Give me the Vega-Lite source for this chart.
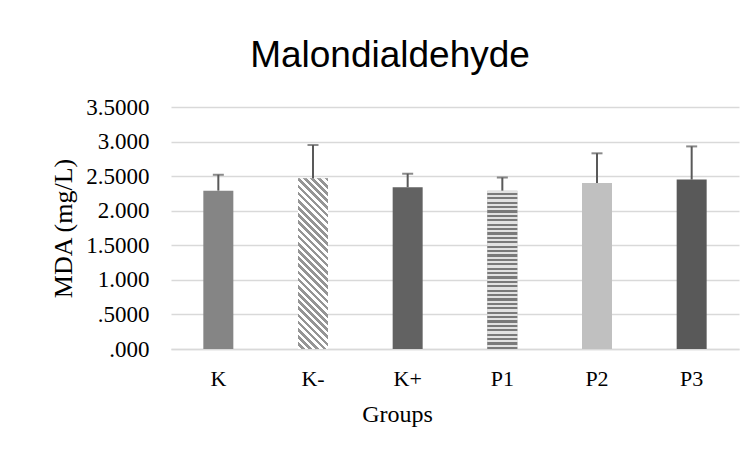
{
  "$schema": "https://vega.github.io/schema/vega-lite/v6.json",
  "width": 568,
  "height": 242,
  "autosize": {"type": "none"},
  "padding": {"left": 171, "top": 107, "right": 15, "bottom": 107},
  "background": "white",
  "config": {"view": {"stroke": null}},
  "title": {
    "text": "Malondialdehyde",
    "font": "Liberation Sans",
    "fontSize": 37,
    "fontWeight": "normal",
    "color": "#000000",
    "anchor": "middle",
    "dx": -65,
    "baseline": "alphabetic",
    "offset": -8
  },
  "data": {
    "values": [
      {"group": "K", "mean": 2.29, "upper": 2.52},
      {"group": "K-", "mean": 2.47, "upper": 2.95},
      {"group": "K+", "mean": 2.34, "upper": 2.535},
      {"group": "P1", "mean": 2.29, "upper": 2.48},
      {"group": "P2", "mean": 2.40, "upper": 2.83},
      {"group": "P3", "mean": 2.45, "upper": 2.93}
    ]
  },
  "encoding": {
    "x": {
      "field": "group",
      "type": "nominal",
      "sort": ["K", "K-", "K+", "P1", "P2", "P3"],
      "scale": {"paddingInner": 0.68, "paddingOuter": 0.34},
      "axis": {
        "title": "Groups",
        "labelAngle": 0,
        "labelFont": "Liberation Serif",
        "labelFontSize": 22,
        "labelColor": "#000000",
        "labelPadding": 19,
        "ticks": false,
        "domainColor": "#d9d9d9",
        "domainWidth": 1.5,
        "titleFont": "Liberation Serif",
        "titleFontSize": 24,
        "titleFontWeight": "normal",
        "titleColor": "#000000",
        "titlePadding": 13,
        "titleX": 226
      }
    }
  },
  "layer": [
    {
      "mark": {"type": "bar", "width": 30},
      "encoding": {
        "y": {
          "field": "mean",
          "type": "quantitative",
          "scale": {"domain": [0, 3.5]},
          "axis": {
            "title": "MDA (mg/L)",
            "values": [0, 0.5, 1, 1.5, 2, 2.5, 3, 3.5],
            "tickCount": 12,
            "labelExpr": "(datum.value < 1 ? '' : floor(datum.value) + '') + '.' + (datum.value % 1 == 0 ? '000' : '5000')",
            "labelOverlap": false,
            "labelFont": "Liberation Serif",
            "labelFontSize": 23,
            "labelColor": "#000000",
            "labelPadding": 22,
            "ticks": false,
            "domain": false,
            "gridColor": "#d9d9d9",
            "gridWidth": 1.5,
            "titleFont": "Liberation Serif",
            "titleFontSize": 26,
            "titleFontWeight": "normal",
            "titleColor": "#000000",
            "titlePadding": 9
          }
        },
        "color": {
          "field": "group",
          "type": "nominal",
          "scale": {
            "domain": ["K", "K-", "K+", "P1", "P2", "P3"],
            "range": ["#858585", "#c9c9c9", "#626262", "#ababab", "#c0c0c0", "#595959"]
          },
          "legend": null
        }
      }
    },
    {
      "transform": [{"filter": "datum.group == 'P1'"}],
      "mark": {
        "type": "bar",
        "width": 30,
        "color": {
          "gradient": "linear",
          "x1": 0, "y1": 0, "x2": 0, "y2": 1,
          "stops": [
            {"offset": 0, "color": "#e2e2e2"}, {"offset": 0.013889, "color": "#e2e2e2"},
            {"offset": 0.013889, "color": "#7a7a7a"}, {"offset": 0.027778, "color": "#7a7a7a"},
            {"offset": 0.027778, "color": "#e2e2e2"}, {"offset": 0.041667, "color": "#e2e2e2"},
            {"offset": 0.041667, "color": "#7a7a7a"}, {"offset": 0.055556, "color": "#7a7a7a"},
            {"offset": 0.055556, "color": "#e2e2e2"}, {"offset": 0.069444, "color": "#e2e2e2"},
            {"offset": 0.069444, "color": "#7a7a7a"}, {"offset": 0.083333, "color": "#7a7a7a"},
            {"offset": 0.083333, "color": "#e2e2e2"}, {"offset": 0.097222, "color": "#e2e2e2"},
            {"offset": 0.097222, "color": "#7a7a7a"}, {"offset": 0.111111, "color": "#7a7a7a"},
            {"offset": 0.111111, "color": "#e2e2e2"}, {"offset": 0.125, "color": "#e2e2e2"},
            {"offset": 0.125, "color": "#7a7a7a"}, {"offset": 0.138889, "color": "#7a7a7a"},
            {"offset": 0.138889, "color": "#e2e2e2"}, {"offset": 0.152778, "color": "#e2e2e2"},
            {"offset": 0.152778, "color": "#7a7a7a"}, {"offset": 0.166667, "color": "#7a7a7a"},
            {"offset": 0.166667, "color": "#e2e2e2"}, {"offset": 0.180556, "color": "#e2e2e2"},
            {"offset": 0.180556, "color": "#7a7a7a"}, {"offset": 0.194444, "color": "#7a7a7a"},
            {"offset": 0.194444, "color": "#e2e2e2"}, {"offset": 0.208333, "color": "#e2e2e2"},
            {"offset": 0.208333, "color": "#7a7a7a"}, {"offset": 0.222222, "color": "#7a7a7a"},
            {"offset": 0.222222, "color": "#e2e2e2"}, {"offset": 0.236111, "color": "#e2e2e2"},
            {"offset": 0.236111, "color": "#7a7a7a"}, {"offset": 0.25, "color": "#7a7a7a"},
            {"offset": 0.25, "color": "#e2e2e2"}, {"offset": 0.263889, "color": "#e2e2e2"},
            {"offset": 0.263889, "color": "#7a7a7a"}, {"offset": 0.277778, "color": "#7a7a7a"},
            {"offset": 0.277778, "color": "#e2e2e2"}, {"offset": 0.291667, "color": "#e2e2e2"},
            {"offset": 0.291667, "color": "#7a7a7a"}, {"offset": 0.305556, "color": "#7a7a7a"},
            {"offset": 0.305556, "color": "#e2e2e2"}, {"offset": 0.319444, "color": "#e2e2e2"},
            {"offset": 0.319444, "color": "#7a7a7a"}, {"offset": 0.333333, "color": "#7a7a7a"},
            {"offset": 0.333333, "color": "#e2e2e2"}, {"offset": 0.347222, "color": "#e2e2e2"},
            {"offset": 0.347222, "color": "#7a7a7a"}, {"offset": 0.361111, "color": "#7a7a7a"},
            {"offset": 0.361111, "color": "#e2e2e2"}, {"offset": 0.375, "color": "#e2e2e2"},
            {"offset": 0.375, "color": "#7a7a7a"}, {"offset": 0.388889, "color": "#7a7a7a"},
            {"offset": 0.388889, "color": "#e2e2e2"}, {"offset": 0.402778, "color": "#e2e2e2"},
            {"offset": 0.402778, "color": "#7a7a7a"}, {"offset": 0.416667, "color": "#7a7a7a"},
            {"offset": 0.416667, "color": "#e2e2e2"}, {"offset": 0.430556, "color": "#e2e2e2"},
            {"offset": 0.430556, "color": "#7a7a7a"}, {"offset": 0.444444, "color": "#7a7a7a"},
            {"offset": 0.444444, "color": "#e2e2e2"}, {"offset": 0.458333, "color": "#e2e2e2"},
            {"offset": 0.458333, "color": "#7a7a7a"}, {"offset": 0.472222, "color": "#7a7a7a"},
            {"offset": 0.472222, "color": "#e2e2e2"}, {"offset": 0.486111, "color": "#e2e2e2"},
            {"offset": 0.486111, "color": "#7a7a7a"}, {"offset": 0.5, "color": "#7a7a7a"},
            {"offset": 0.5, "color": "#e2e2e2"}, {"offset": 0.513889, "color": "#e2e2e2"},
            {"offset": 0.513889, "color": "#7a7a7a"}, {"offset": 0.527778, "color": "#7a7a7a"},
            {"offset": 0.527778, "color": "#e2e2e2"}, {"offset": 0.541667, "color": "#e2e2e2"},
            {"offset": 0.541667, "color": "#7a7a7a"}, {"offset": 0.555556, "color": "#7a7a7a"},
            {"offset": 0.555556, "color": "#e2e2e2"}, {"offset": 0.569444, "color": "#e2e2e2"},
            {"offset": 0.569444, "color": "#7a7a7a"}, {"offset": 0.583333, "color": "#7a7a7a"},
            {"offset": 0.583333, "color": "#e2e2e2"}, {"offset": 0.597222, "color": "#e2e2e2"},
            {"offset": 0.597222, "color": "#7a7a7a"}, {"offset": 0.611111, "color": "#7a7a7a"},
            {"offset": 0.611111, "color": "#e2e2e2"}, {"offset": 0.625, "color": "#e2e2e2"},
            {"offset": 0.625, "color": "#7a7a7a"}, {"offset": 0.638889, "color": "#7a7a7a"},
            {"offset": 0.638889, "color": "#e2e2e2"}, {"offset": 0.652778, "color": "#e2e2e2"},
            {"offset": 0.652778, "color": "#7a7a7a"}, {"offset": 0.666667, "color": "#7a7a7a"},
            {"offset": 0.666667, "color": "#e2e2e2"}, {"offset": 0.680556, "color": "#e2e2e2"},
            {"offset": 0.680556, "color": "#7a7a7a"}, {"offset": 0.694444, "color": "#7a7a7a"},
            {"offset": 0.694444, "color": "#e2e2e2"}, {"offset": 0.708333, "color": "#e2e2e2"},
            {"offset": 0.708333, "color": "#7a7a7a"}, {"offset": 0.722222, "color": "#7a7a7a"},
            {"offset": 0.722222, "color": "#e2e2e2"}, {"offset": 0.736111, "color": "#e2e2e2"},
            {"offset": 0.736111, "color": "#7a7a7a"}, {"offset": 0.75, "color": "#7a7a7a"},
            {"offset": 0.75, "color": "#e2e2e2"}, {"offset": 0.763889, "color": "#e2e2e2"},
            {"offset": 0.763889, "color": "#7a7a7a"}, {"offset": 0.777778, "color": "#7a7a7a"},
            {"offset": 0.777778, "color": "#e2e2e2"}, {"offset": 0.791667, "color": "#e2e2e2"},
            {"offset": 0.791667, "color": "#7a7a7a"}, {"offset": 0.805556, "color": "#7a7a7a"},
            {"offset": 0.805556, "color": "#e2e2e2"}, {"offset": 0.819444, "color": "#e2e2e2"},
            {"offset": 0.819444, "color": "#7a7a7a"}, {"offset": 0.833333, "color": "#7a7a7a"},
            {"offset": 0.833333, "color": "#e2e2e2"}, {"offset": 0.847222, "color": "#e2e2e2"},
            {"offset": 0.847222, "color": "#7a7a7a"}, {"offset": 0.861111, "color": "#7a7a7a"},
            {"offset": 0.861111, "color": "#e2e2e2"}, {"offset": 0.875, "color": "#e2e2e2"},
            {"offset": 0.875, "color": "#7a7a7a"}, {"offset": 0.888889, "color": "#7a7a7a"},
            {"offset": 0.888889, "color": "#e2e2e2"}, {"offset": 0.902778, "color": "#e2e2e2"},
            {"offset": 0.902778, "color": "#7a7a7a"}, {"offset": 0.916667, "color": "#7a7a7a"},
            {"offset": 0.916667, "color": "#e2e2e2"}, {"offset": 0.930556, "color": "#e2e2e2"},
            {"offset": 0.930556, "color": "#7a7a7a"}, {"offset": 0.944444, "color": "#7a7a7a"},
            {"offset": 0.944444, "color": "#e2e2e2"}, {"offset": 0.958333, "color": "#e2e2e2"},
            {"offset": 0.958333, "color": "#7a7a7a"}, {"offset": 0.972222, "color": "#7a7a7a"},
            {"offset": 0.972222, "color": "#e2e2e2"}, {"offset": 0.986111, "color": "#e2e2e2"},
            {"offset": 0.986111, "color": "#7a7a7a"}, {"offset": 1, "color": "#7a7a7a"}
          ]
        }
      },
      "encoding": {
        "y": {"field": "mean", "type": "quantitative"}
      }
    },
    {
      "transform": [{"filter": "datum.group == 'K-'"}],
      "mark": {
        "type": "bar",
        "width": 30,
        "color": {
          "gradient": "linear",
          "x1": 0, "y1": 1, "x2": 0.2, "y2": -0.14,
          "stops": [
            {"offset": 0, "color": "#ffffff"}, {"offset": 0.017857, "color": "#ffffff"},
            {"offset": 0.017857, "color": "#959595"}, {"offset": 0.035714, "color": "#959595"},
            {"offset": 0.035714, "color": "#ffffff"}, {"offset": 0.053571, "color": "#ffffff"},
            {"offset": 0.053571, "color": "#959595"}, {"offset": 0.071429, "color": "#959595"},
            {"offset": 0.071429, "color": "#ffffff"}, {"offset": 0.089286, "color": "#ffffff"},
            {"offset": 0.089286, "color": "#959595"}, {"offset": 0.107143, "color": "#959595"},
            {"offset": 0.107143, "color": "#ffffff"}, {"offset": 0.125, "color": "#ffffff"},
            {"offset": 0.125, "color": "#959595"}, {"offset": 0.142857, "color": "#959595"},
            {"offset": 0.142857, "color": "#ffffff"}, {"offset": 0.160714, "color": "#ffffff"},
            {"offset": 0.160714, "color": "#959595"}, {"offset": 0.178571, "color": "#959595"},
            {"offset": 0.178571, "color": "#ffffff"}, {"offset": 0.196429, "color": "#ffffff"},
            {"offset": 0.196429, "color": "#959595"}, {"offset": 0.214286, "color": "#959595"},
            {"offset": 0.214286, "color": "#ffffff"}, {"offset": 0.232143, "color": "#ffffff"},
            {"offset": 0.232143, "color": "#959595"}, {"offset": 0.25, "color": "#959595"},
            {"offset": 0.25, "color": "#ffffff"}, {"offset": 0.267857, "color": "#ffffff"},
            {"offset": 0.267857, "color": "#959595"}, {"offset": 0.285714, "color": "#959595"},
            {"offset": 0.285714, "color": "#ffffff"}, {"offset": 0.303571, "color": "#ffffff"},
            {"offset": 0.303571, "color": "#959595"}, {"offset": 0.321429, "color": "#959595"},
            {"offset": 0.321429, "color": "#ffffff"}, {"offset": 0.339286, "color": "#ffffff"},
            {"offset": 0.339286, "color": "#959595"}, {"offset": 0.357143, "color": "#959595"},
            {"offset": 0.357143, "color": "#ffffff"}, {"offset": 0.375, "color": "#ffffff"},
            {"offset": 0.375, "color": "#959595"}, {"offset": 0.392857, "color": "#959595"},
            {"offset": 0.392857, "color": "#ffffff"}, {"offset": 0.410714, "color": "#ffffff"},
            {"offset": 0.410714, "color": "#959595"}, {"offset": 0.428571, "color": "#959595"},
            {"offset": 0.428571, "color": "#ffffff"}, {"offset": 0.446429, "color": "#ffffff"},
            {"offset": 0.446429, "color": "#959595"}, {"offset": 0.464286, "color": "#959595"},
            {"offset": 0.464286, "color": "#ffffff"}, {"offset": 0.482143, "color": "#ffffff"},
            {"offset": 0.482143, "color": "#959595"}, {"offset": 0.5, "color": "#959595"},
            {"offset": 0.5, "color": "#ffffff"}, {"offset": 0.517857, "color": "#ffffff"},
            {"offset": 0.517857, "color": "#959595"}, {"offset": 0.535714, "color": "#959595"},
            {"offset": 0.535714, "color": "#ffffff"}, {"offset": 0.553571, "color": "#ffffff"},
            {"offset": 0.553571, "color": "#959595"}, {"offset": 0.571429, "color": "#959595"},
            {"offset": 0.571429, "color": "#ffffff"}, {"offset": 0.589286, "color": "#ffffff"},
            {"offset": 0.589286, "color": "#959595"}, {"offset": 0.607143, "color": "#959595"},
            {"offset": 0.607143, "color": "#ffffff"}, {"offset": 0.625, "color": "#ffffff"},
            {"offset": 0.625, "color": "#959595"}, {"offset": 0.642857, "color": "#959595"},
            {"offset": 0.642857, "color": "#ffffff"}, {"offset": 0.660714, "color": "#ffffff"},
            {"offset": 0.660714, "color": "#959595"}, {"offset": 0.678571, "color": "#959595"},
            {"offset": 0.678571, "color": "#ffffff"}, {"offset": 0.696429, "color": "#ffffff"},
            {"offset": 0.696429, "color": "#959595"}, {"offset": 0.714286, "color": "#959595"},
            {"offset": 0.714286, "color": "#ffffff"}, {"offset": 0.732143, "color": "#ffffff"},
            {"offset": 0.732143, "color": "#959595"}, {"offset": 0.75, "color": "#959595"},
            {"offset": 0.75, "color": "#ffffff"}, {"offset": 0.767857, "color": "#ffffff"},
            {"offset": 0.767857, "color": "#959595"}, {"offset": 0.785714, "color": "#959595"},
            {"offset": 0.785714, "color": "#ffffff"}, {"offset": 0.803571, "color": "#ffffff"},
            {"offset": 0.803571, "color": "#959595"}, {"offset": 0.821429, "color": "#959595"},
            {"offset": 0.821429, "color": "#ffffff"}, {"offset": 0.839286, "color": "#ffffff"},
            {"offset": 0.839286, "color": "#959595"}, {"offset": 0.857143, "color": "#959595"},
            {"offset": 0.857143, "color": "#ffffff"}, {"offset": 0.875, "color": "#ffffff"},
            {"offset": 0.875, "color": "#959595"}, {"offset": 0.892857, "color": "#959595"},
            {"offset": 0.892857, "color": "#ffffff"}, {"offset": 0.910714, "color": "#ffffff"},
            {"offset": 0.910714, "color": "#959595"}, {"offset": 0.928571, "color": "#959595"},
            {"offset": 0.928571, "color": "#ffffff"}, {"offset": 0.946429, "color": "#ffffff"},
            {"offset": 0.946429, "color": "#959595"}, {"offset": 0.964286, "color": "#959595"},
            {"offset": 0.964286, "color": "#ffffff"}, {"offset": 0.982143, "color": "#ffffff"},
            {"offset": 0.982143, "color": "#959595"}, {"offset": 1, "color": "#959595"}
          ]
        }
      },
      "encoding": {
        "y": {"field": "mean", "type": "quantitative"}
      }
    },
    {
      "mark": {"type": "rule", "color": "#595959", "strokeWidth": 2},
      "encoding": {
        "y": {"field": "mean", "type": "quantitative"},
        "y2": {"field": "upper"}
      }
    },
    {
      "mark": {"type": "tick", "color": "#595959", "thickness": 2, "size": 11},
      "encoding": {
        "y": {"field": "upper", "type": "quantitative"}
      }
    }
  ]
}
